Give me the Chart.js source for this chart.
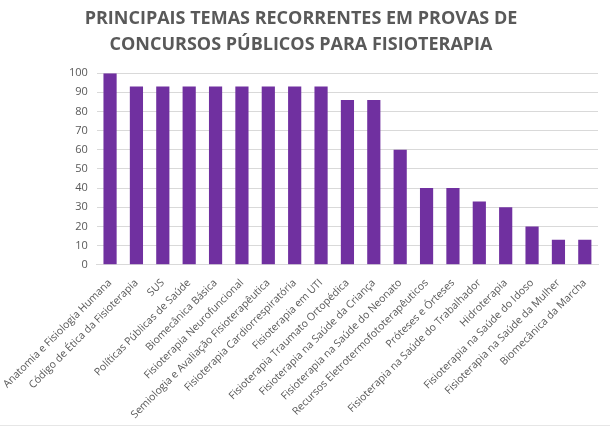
<!DOCTYPE html>
<html>
<head>
<meta charset="utf-8">
<script src="https://cdn.jsdelivr.net/npm/chart.js@4"></script>
<style>
  html, body { margin: 0; padding: 0; background: #fff; }
  #wrap { width: 610px; height: 425px; position: relative; border-bottom: 1px solid #e6e6e6; }
</style>
</head>
<body>
<div id="wrap"><canvas id="chart"></canvas></div>
<script>
const temas = [
    'Anatomia e Fisiologia Humana',
    'Código de Ética da Fisioterapia',
    'SUS',
    'Políticas Públicas de Saúde',
    'Biomecânica Básica',
    'Fisioterapia Neurofuncional',
    'Semiologia e Avaliação Fisioterapêutica',
    'Fisioterapia Cardiorrespiratória',
    'Fisioterapia em UTI',
    'Fisioterapia Traumato Ortopédica',
    'Fisioterapia na Saúde da Criança',
    'Fisioterapia na Saúde do Neonato',
    'Recursos Eletrotermofototerapêuticos',
    'Próteses e Órteses',
    'Fisioterapia na Saúde do Trabalhador',
    'Hidroterapia',
    'Fisioterapia na Saúde do Idoso',
    'Fisioterapia na Saúde da Mulher',
    'Biomecânica da Marcha',
];
const frequencia = [100, 93, 93, 93, 93, 93, 93, 93, 93, 86, 86, 60, 40, 40, 33, 30, 20, 13, 13];
const titulo = ['PRINCIPAIS TEMAS RECORRENTES EM PROVAS DE', 'CONCURSOS PÚBLICOS PARA FISIOTERAPIA'];

const grey = '#595959';

new Chart(document.getElementById('chart'), {
    type: 'bar',
    data: {
        labels: temas,
        datasets: [{
            data: frequencia,
            backgroundColor: '#7030A0',
            barPercentage: 0.5,
            categoryPercentage: 1,
        }],
    },
    options: {
        responsive: true,
        maintainAspectRatio: false,
        animation: false,
        layout: { padding: { top: 2, right: 12, bottom: 0, left: 4 } },
        plugins: {
            legend: { display: false },
            tooltip: { enabled: false },
            title: {
                display: true,
                text: titulo,
                color: grey,
                font: { family: 'Open Sans', size: 18, weight: 'bold', lineHeight: 1.45 },
                padding: { top: 4, bottom: 15 },
            },
        },
        scales: {
            x: {
                grid: { display: false },
                border: { color: '#d9d9d9' },
                ticks: {
                    color: grey,
                    font: { family: 'Open Sans', size: 10.5 },
                    maxRotation: 45,
                    minRotation: 45,
                    autoSkip: false,
                    padding: 4,
                },
            },
            y: {
                min: 0,
                max: 100,
                ticks: { stepSize: 10, color: grey, font: { family: 'Open Sans', size: 11 }, padding: 9 },
                grid: { color: '#d9d9d9', drawTicks: false },
                border: { display: false },
            },
        },
    },
});
</script>
</body>
</html>
